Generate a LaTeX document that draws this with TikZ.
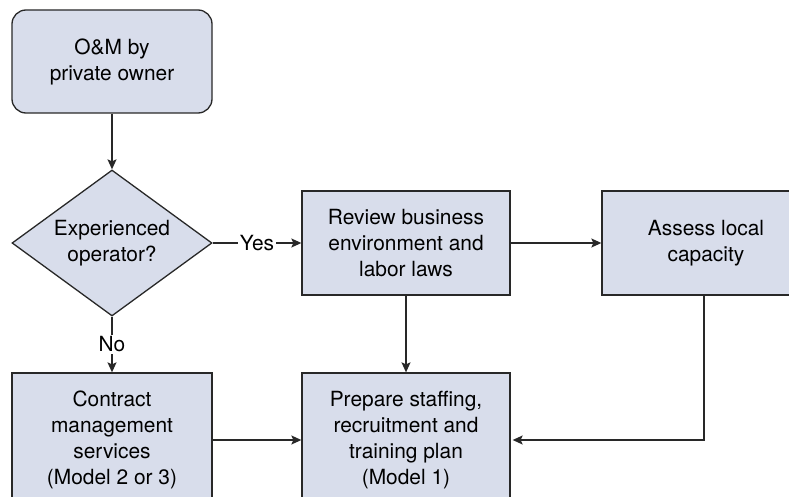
\documentclass[tikz,border=0pt]{standalone}
\usepackage{fontspec}
\setmainfont{TeX Gyre Heros}
\usetikzlibrary{shapes.geometric,arrows.meta}
\definecolor{boxfill}{RGB}{216,221,235}
\definecolor{edge}{RGB}{40,40,40}
\begin{document}
\begin{tikzpicture}[x=1pt,y=-1pt,
  every node/.style={font=\fontsize{20.9}{26}\selectfont, align=center, text=black},
  stepbox/.style={draw=edge, line width=1.3pt, fill=boxfill, inner sep=0pt},
  startbox/.style={stepbox, rounded corners=14pt},
  decision/.style={stepbox, diamond, shape aspect=1.37, inner xsep=-20pt, inner ysep=-12pt,
    minimum width=200pt, minimum height=146pt},
  flow/.style={draw=edge, line width=1.3pt, -{Stealth[length=10pt,width=9pt,inset=2pt]}},
  tag/.style={fill=white, inner sep=1.5pt}]
  \useasboundingbox (0,0) rectangle (789,497);
  \clip (0,0) rectangle (789,497);

  \node[startbox, minimum width=200pt, minimum height=103pt] (owner) at (112,61.5)
    {O\&M by\\private owner};
  \node[decision] (exp) at (112,243) {Experienced\\operator?};
  \node[stepbox, minimum width=208pt, minimum height=104pt] (review) at (406,243)
    {Review business\\environment and\\labor laws};
  \node[stepbox, minimum width=208pt, minimum height=104pt] (assess) at (706,243)
    {Assess local\\capacity};
  \node[stepbox, minimum width=200pt, minimum height=134pt] (contract) at (112,440)
    {Contract\\management\\services\\(Model 2 or 3)};
  \node[stepbox, minimum width=208pt, minimum height=134pt] (prepare) at (406,440)
    {Prepare staffing,\\recruitment and\\training plan\\(Model 1)};

  \draw[flow] (owner) -- (exp);
  \draw[flow] (exp) -- node[tag] {Yes} (review);
  \draw[flow] (exp) -- node[tag] {No} (contract);
  \draw[flow] (review) -- (assess);
  \draw[flow] (review) -- (prepare);
  \draw[flow] (contract) -- (prepare);
  \draw[flow, shorten >=2pt] (assess.south -| 704,0) |- (prepare.east);
\end{tikzpicture}
\end{document}
